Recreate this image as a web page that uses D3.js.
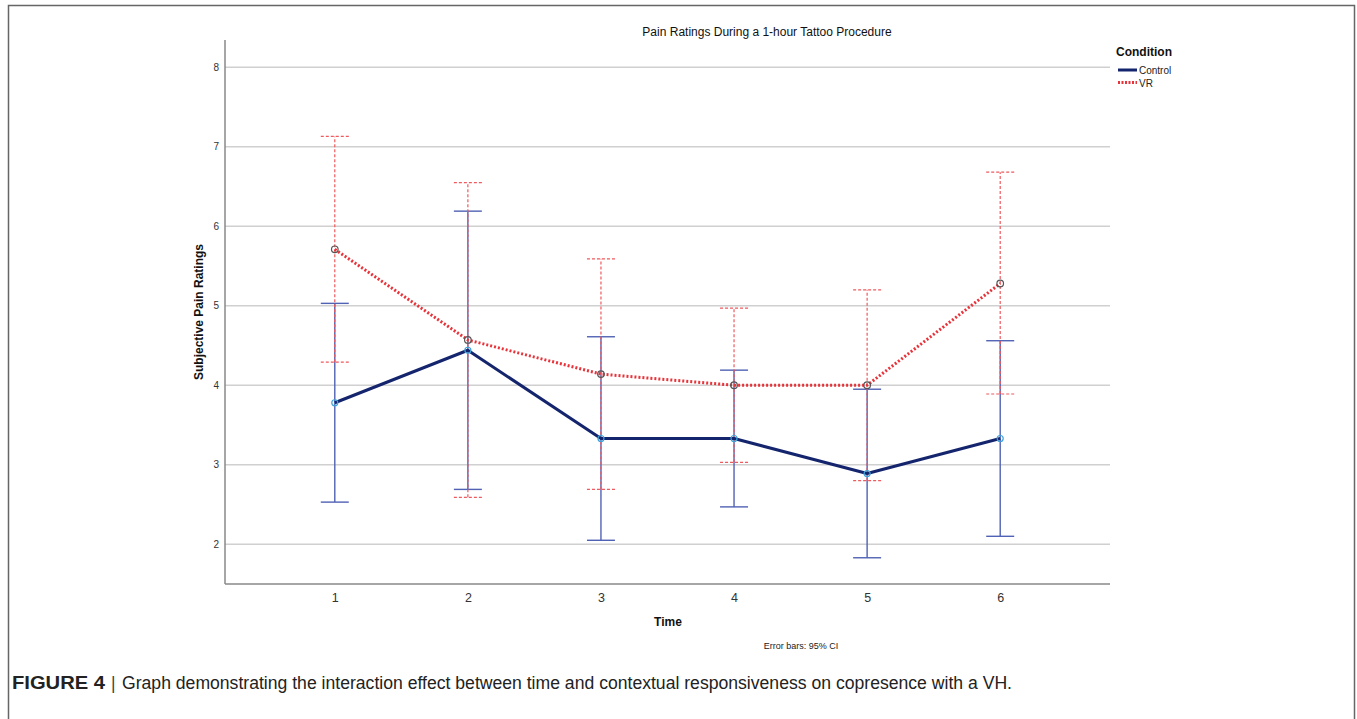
<!DOCTYPE html>
<html><head><meta charset="utf-8">
<script src="https://cdn.jsdelivr.net/npm/d3@7"></script>
<style>body{margin:0;background:#fff;}svg{display:block;font-family:Arial,"Liberation Sans",sans-serif;}</style>
</head><body>
<svg id="c" width="1357" height="719"></svg>
<script>
const times = ["1","2","3","4","5","6"];
const yTicks = [2,3,4,5,6,7,8];
const controlMean = [3.78, 4.44, 3.33, 3.33, 2.89, 3.33];
const controlLow  = [2.53, 2.69, 2.05, 2.47, 1.83, 2.10];
const controlHigh = [5.03, 6.19, 4.61, 4.19, 3.95, 4.56];
const vrMean = [5.71, 4.57, 4.14, 4.00, 4.00, 5.28];
const vrLow  = [4.29, 2.59, 2.69, 3.03, 2.80, 3.89];
const vrHigh = [7.13, 6.55, 5.59, 4.97, 5.20, 6.68];
const legendLabels = ["Control","VR"];

const svg = d3.select("#c");
// outer frame
svg.append("rect").attr("x",8.5).attr("y",5.5).attr("width",1346).attr("height",730)
  .attr("fill","none").attr("stroke","#666").attr("stroke-width",1.5);

const L=225, R=1110, T=40, B=584;
const x = d3.scalePoint().domain(times).range([L,R]).padding(0.825);
const y = d3.scaleLinear().domain([1.5, 1.5 + (B-T)/79.5]).range([B,T]);

// gridlines
svg.append("g").selectAll("line").data(yTicks).join("line")
  .attr("x1",L).attr("x2",R).attr("y1",d=>y(d)).attr("y2",d=>y(d))
  .attr("stroke","#d0d0d0").attr("stroke-width",1.3);

// axes
const ya = svg.append("g").attr("transform",`translate(${L},0)`)
  .call(d3.axisLeft(y).tickValues(yTicks).tickSize(0).tickPadding(6).tickFormat(d3.format("d")));
ya.select(".domain").attr("d",`M0,${T}V${B}`).attr("stroke","#888").attr("stroke-width",1.5);
ya.selectAll("text").attr("font-size",10).attr("fill","#333").attr("font-family","Arial,'Liberation Sans',sans-serif");

const xa = svg.append("g").attr("transform",`translate(0,${B})`)
  .call(d3.axisBottom(x).tickSize(0).tickPadding(9));
xa.select(".domain").attr("d",`M${L},0H${R}`).attr("stroke","#888").attr("stroke-width",1.5);
xa.selectAll("text").attr("font-size",12.5).attr("fill","#333").attr("font-family","Arial,'Liberation Sans',sans-serif");

// error bars
const cap = 14;
function errBars(low, high, color, width, dash){
  const g = svg.append("g").attr("stroke",color).attr("stroke-width",width).attr("stroke-dasharray",dash);
  g.selectAll(".v").data(times).join("line")
    .attr("x1",d=>x(d)).attr("x2",d=>x(d)).attr("y1",(d,i)=>y(low[i])).attr("y2",(d,i)=>y(high[i]));
  g.selectAll(".lo").data(times).join("line")
    .attr("x1",d=>x(d)-cap).attr("x2",d=>x(d)+cap).attr("y1",(d,i)=>y(low[i])).attr("y2",(d,i)=>y(low[i]));
  g.selectAll(".hi").data(times).join("line")
    .attr("x1",d=>x(d)-cap).attr("x2",d=>x(d)+cap).attr("y1",(d,i)=>y(high[i])).attr("y2",(d,i)=>y(high[i]));
}
errBars(controlLow, controlHigh, "#5062b4", 1.4, null);
errBars(vrLow, vrHigh, "#ee5a5e", 1.2, "3,2");

const line = d3.line().x((d,i)=>x(times[i])).y(d=>y(d));
svg.append("path").datum(controlMean).attr("d",line).attr("fill","none")
  .attr("stroke","#14256e").attr("stroke-width",3).attr("stroke-linejoin","round");
svg.append("path").datum(vrMean).attr("d",line).attr("fill","none")
  .attr("stroke","#e8333a").attr("stroke-width",3).attr("stroke-dasharray","2,2");

svg.append("g").selectAll("circle").data(controlMean).join("circle")
  .attr("cx",(d,i)=>x(times[i])).attr("cy",d=>y(d)).attr("r",3)
  .attr("fill","none").attr("stroke","#3fa2d8").attr("stroke-width",1.2);
svg.append("g").selectAll("circle").data(vrMean).join("circle")
  .attr("cx",(d,i)=>x(times[i])).attr("cy",d=>y(d)).attr("r",3.3)
  .attr("fill","none").attr("stroke","#555").attr("stroke-width",1.2);

// titles
svg.append("text").attr("x",767).attr("y",36).attr("text-anchor","middle")
  .attr("font-size",12).attr("fill","#111").text("Pain Ratings During a 1-hour Tattoo Procedure");
svg.append("text").attr("transform","translate(203,312) rotate(-90)").attr("text-anchor","middle")
  .attr("font-size",12).attr("font-weight","bold").attr("fill","#111").text("Subjective Pain Ratings");
svg.append("text").attr("x",668).attr("y",626).attr("text-anchor","middle")
  .attr("font-size",12).attr("font-weight","bold").attr("fill","#111").text("Time");
svg.append("text").attr("x",801).attr("y",649).attr("text-anchor","middle")
  .attr("font-size",9).attr("fill","#222").text("Error bars: 95% CI");

// legend
svg.append("text").attr("x",1116).attr("y",56).attr("font-size",12).attr("font-weight","bold")
  .attr("fill","#111").text("Condition");
const lg = svg.append("g");
const lstyles = [{c:"#14256e",w:3,d:null},{c:"#e8333a",w:3,d:"2,1.5"}];
legendLabels.forEach((lab,i)=>{
  const yy = 70 + i*12.5;
  lg.append("line").attr("x1",1118).attr("x2",1137).attr("y1",yy).attr("y2",yy)
    .attr("stroke",lstyles[i].c).attr("stroke-width",lstyles[i].w).attr("stroke-dasharray",lstyles[i].d);
  lg.append("text").attr("x",1139).attr("y",yy+4).attr("font-size",10).attr("fill","#222").text(lab);
});

// caption
const cap4 = svg.append("text").attr("y",689).attr("font-size",17.5).attr("fill","#222");
cap4.append("tspan").attr("x",12).attr("font-weight","bold").attr("textLength",93).attr("lengthAdjust","spacingAndGlyphs").text("FIGURE 4");
cap4.append("tspan").attr("x",111).attr("fill","#444").text("|");
cap4.append("tspan").attr("x",122).attr("textLength",890).attr("lengthAdjust","spacingAndGlyphs")
  .text("Graph demonstrating the interaction effect between time and contextual responsiveness on copresence with a VH.");
</script>
</body></html>
